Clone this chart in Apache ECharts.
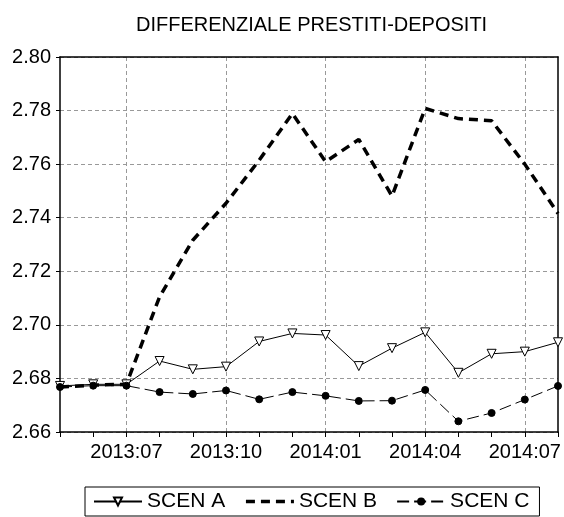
<!DOCTYPE html>
<html>
<head>
<meta charset="utf-8">
<script src="https://cdn.jsdelivr.net/npm/echarts@6/dist/echarts.min.js"></script>
<style>
  html, body { margin: 0; padding: 0; background: #fff; }
  #chart { width: 564px; height: 517px; }
</style>
</head>
<body>
<div id="chart"></div>
<script>
const months = ["2013:05", "2013:06", "2013:07", "2013:08", "2013:09", "2013:10", "2013:11", "2013:12",
  "2014:01", "2014:02", "2014:03", "2014:04", "2014:05", "2014:06", "2014:07", "2014:08"];
const scenA = [2.6772, 2.6778, 2.6778, 2.6865, 2.6834, 2.6844, 2.6938, 2.6968,
  2.6962, 2.6846, 2.6913, 2.6972, 2.6821, 2.6892, 2.6900, 2.6935];
const scenB = [2.6768, 2.6775, 2.6778, 2.7105, 2.7316, 2.7454, 2.7615, 2.7789,
  2.7609, 2.7692, 2.7481, 2.7808, 2.7770, 2.7762, 2.7600, 2.7416];
const scenC = [2.6768, 2.6773, 2.6773, 2.6749, 2.6742, 2.6755, 2.6722, 2.6749,
  2.6735, 2.6716, 2.6717, 2.6757, 2.6640, 2.6671, 2.6721, 2.6772];

const font = "Liberation Sans, Arial, sans-serif";
const labeled = function(index) { return (index - 2) % 3 === 0; };

const chart = echarts.init(document.getElementById("chart"));

const option = {
  animation: false,
  backgroundColor: "#fff",
  title: {
    text: "DIFFERENZIALE PRESTITI-DEPOSITI",
    left: 131,
    top: 10,
    textStyle: { fontFamily: font, fontSize: 20, fontWeight: "normal", color: "#000" }
  },
  grid: { left: 60, right: 6, top: 57, bottom: 85 },
  legend: {
    bottom: 1,
    left: 85,
    padding: [4, 10, 4, 8],
    itemGap: 19,
    itemWidth: 48,
    itemHeight: 10,
    borderColor: "#000",
    borderWidth: 1,
    textStyle: { fontFamily: font, fontSize: 21, color: "#000" },
    data: [
      { name: "SCEN A" },
      { name: "SCEN B", itemStyle: { color: "rgba(0,0,0,0)", borderColor: "rgba(0,0,0,0)" },
        lineStyle: { width: 3.5, type: [9, 6] } },
      { name: "SCEN C" }
    ]
  },
  xAxis: [{
    type: "category",
    data: months,
    boundaryGap: false,
    axisLine: { lineStyle: { color: "#000", width: 1.5 } },
    axisTick: { alignWithLabel: true, interval: 0, length: 5, lineStyle: { color: "#000" } },
    axisLabel: { interval: labeled, fontFamily: font, fontSize: 20, color: "#000", margin: 10 },
    splitLine: { show: true, interval: labeled, lineStyle: { color: "#999", type: [4, 3] } }
  }, {
    type: "category",
    data: months,
    position: "top",
    boundaryGap: false,
    axisLine: { lineStyle: { color: "#000", width: 1.5 } },
    axisTick: { show: false },
    axisLabel: { show: false }
  }],
  yAxis: [{
    type: "value",
    min: 2.66,
    max: 2.80,
    interval: 0.02,
    axisLine: { show: true, lineStyle: { color: "#000", width: 1.5 } },
    axisTick: { show: true, length: 4, lineStyle: { color: "#000" } },
    axisLabel: {
      fontFamily: font, fontSize: 20, color: "#000", margin: 9,
      formatter: function(v) { return v.toFixed(2); }
    },
    splitLine: { lineStyle: { color: "#999", type: [4, 3] } }
  }, {
    type: "value",
    position: "right",
    min: 2.66,
    max: 2.80,
    interval: 0.02,
    axisLine: { show: true, lineStyle: { color: "#000", width: 1.5 } },
    axisTick: { show: false },
    axisLabel: { show: false },
    splitLine: { show: false }
  }],
  series: [{
    name: "SCEN A",
    type: "line",
    data: scenA,
    symbol: "triangle",
    symbolRotate: 180,
    symbolSize: 9,
    itemStyle: { color: "#fff", borderColor: "#000", borderWidth: 1 },
    lineStyle: { color: "#000", width: 1 },
    z: 3
  }, {
    name: "SCEN B",
    type: "line",
    data: scenB,
    symbol: "none",
    itemStyle: { color: "#000" },
    lineStyle: { color: "#000", width: 3.5, type: [9, 6] },
    z: 2
  }, {
    name: "SCEN C",
    type: "line",
    data: scenC,
    symbol: "circle",
    symbolSize: 7,
    itemStyle: { color: "#000", borderColor: "#000" },
    lineStyle: { color: "#000", width: 1, type: [12, 5] },
    z: 4
  }]
};

chart.setOption(option);
</script>
</body>
</html>
